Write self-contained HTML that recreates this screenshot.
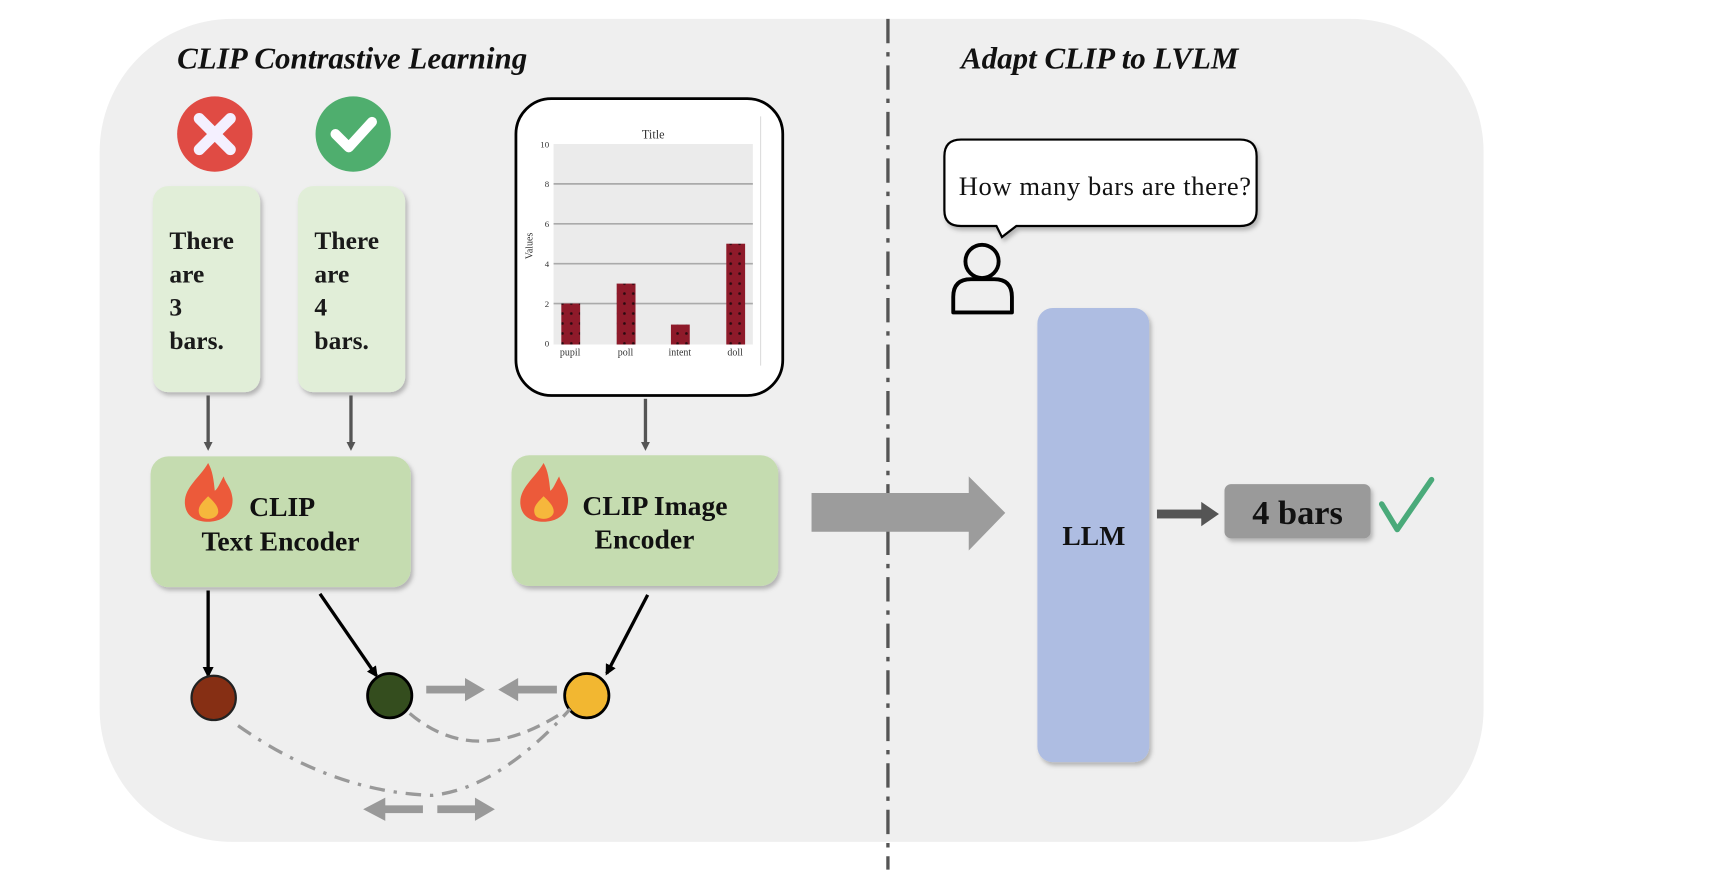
<!DOCTYPE html>
<html><head><meta charset="utf-8"><style>
html,body{margin:0;padding:0;background:#fff;}
svg{display:block;}
text{font-family:"Liberation Serif",serif;}
</style></head><body>
<svg width="1736" height="884" viewBox="0 0 1568 798" preserveAspectRatio="none" xmlns="http://www.w3.org/2000/svg">
<defs>
<filter id="sh" x="-10%" y="-10%" width="130%" height="130%"><feDropShadow dx="2" dy="3" stdDeviation="2" flood-color="#000" flood-opacity="0.25"/></filter>
<marker id="ah" markerWidth="8" markerHeight="8" refX="4" refY="4" orient="auto" markerUnits="userSpaceOnUse"><path d="M0,0 L8,4 L0,8 z" fill="#555"/></marker>
<marker id="ahb" markerWidth="10" markerHeight="10" refX="8" refY="5" orient="auto" markerUnits="userSpaceOnUse"><path d="M0,0 L10,5 L0,10 z" fill="#000"/></marker>
<pattern id="dots" width="8" height="9" patternUnits="userSpaceOnUse"><rect width="8" height="9" fill="#8e1a2a"/><circle cx="4" cy="4" r="1.2" fill="#2a0a10"/></pattern>
</defs>
<rect x="90" y="17" width="1250" height="743" rx="120" fill="#efefef"/>
<line x1="802" y1="17" x2="802" y2="785" stroke="#555" stroke-width="3" stroke-dasharray="22,8,4,8"/>
<text x="160" y="62" font-size="28" font-style="italic" font-weight="bold" fill="#111">CLIP Contrastive Learning</text>
<text x="868" y="62" font-size="28" font-style="italic" font-weight="bold" fill="#111">Adapt CLIP to LVLM</text>

<circle cx="194" cy="121" r="34" fill="#e04b44"/>
<path d="M180,107 L208,135 M208,107 L180,135" stroke="#f4f0ff" stroke-width="10" stroke-linecap="round"/>
<circle cx="319" cy="121" r="34" fill="#4fae6e"/>
<path d="M303,121 L315,133 L336,110" stroke="#fff" stroke-width="9" fill="none" stroke-linecap="round" stroke-linejoin="round"/>

<rect x="138" y="168" width="97" height="186" rx="14" fill="#e1eed8" filter="url(#sh)"/>
<rect x="269" y="168" width="97" height="186" rx="14" fill="#e1eed8" filter="url(#sh)"/>
<g font-size="23" font-weight="bold" fill="#1a1a1a">
<text x="153" y="225">There</text><text x="153" y="255">are</text><text x="153" y="285">3</text><text x="153" y="315">bars.</text>
<text x="284" y="225">There</text><text x="284" y="255">are</text><text x="284" y="285">4</text><text x="284" y="315">bars.</text>
</g>

<rect x="466" y="89" width="241" height="268" rx="32" fill="#fff" stroke="#000" stroke-width="2.5"/>
<text x="590" y="125" font-size="11" text-anchor="middle" font-family="Liberation Sans" fill="#333">Title</text>
<rect x="500" y="130" width="180" height="181" fill="#ebebeb"/>
<g stroke="#aaa" stroke-width="1.5">
<line x1="500" y1="166" x2="680" y2="166"/><line x1="500" y1="202" x2="680" y2="202"/><line x1="500" y1="238" x2="680" y2="238"/><line x1="500" y1="274" x2="680" y2="274"/>
</g>
<line x1="687" y1="105" x2="687" y2="330" stroke="#ddd"/>
<g font-size="8" font-family="Liberation Sans" fill="#333" text-anchor="end">
<text x="496" y="133">10</text><text x="496" y="169">8</text><text x="496" y="205">6</text><text x="496" y="241">4</text><text x="496" y="277">2</text><text x="496" y="313">0</text>
</g>
<text x="481" y="222" font-size="9" font-family="Liberation Sans" fill="#333" transform="rotate(-90 481 222)" text-anchor="middle">Values</text>
<rect x="507" y="274" width="17" height="37" fill="url(#dots)"/>
<rect x="557" y="256" width="17" height="55" fill="url(#dots)"/>
<rect x="606" y="293" width="17" height="18" fill="url(#dots)"/>
<rect x="656" y="220" width="17" height="91" fill="url(#dots)"/>
<g font-size="9" font-family="Liberation Sans" fill="#333" text-anchor="middle">
<text x="515" y="321">pupil</text><text x="565" y="321">poll</text><text x="614" y="321">intent</text><text x="664" y="321">doll</text>
</g>

<g stroke="#555" stroke-width="3" marker-end="url(#ah)">
<line x1="188" y1="357" x2="188" y2="403"/>
<line x1="317" y1="357" x2="317" y2="403"/>
<line x1="583" y1="360" x2="583" y2="403"/>
</g>

<rect x="136" y="412" width="235" height="118" rx="16" fill="#c5dcb0" filter="url(#sh)"/>
<rect x="462" y="411" width="241" height="118" rx="16" fill="#c5dcb0" filter="url(#sh)"/>
<g>
<path d="M188,418 C180,432 166,440 167,455 C168,467 178,471 188,471 C200,471 211,464 210,450 C209,440 204,437 202,430 C198,437 197,441 194,443 C193,433 192,425 188,418 z" fill="#ec5a3a"/>
<path d="M188,448 C182,454 178,458 180,464 C182,470 195,470 197,463 C198,457 192,452 188,448 z" fill="#f6b73c"/>
<path d="M491,418 C483,432 469,440 470,455 C471,467 481,471 491,471 C503,471 514,464 513,450 C512,440 507,437 505,430 C501,437 500,441 497,443 C496,433 495,425 491,418 z" fill="#ec5a3a"/>
<path d="M491,448 C485,454 481,458 483,464 C485,470 498,470 500,463 C501,457 495,452 491,448 z" fill="#f6b73c"/>
</g>
<g font-size="25" font-weight="bold" fill="#111">
<text x="225" y="466">CLIP</text>
<text x="182" y="497">Text Encoder</text>
<text x="526" y="465">CLIP Image</text>
<text x="537" y="495">Encoder</text>
</g>

<g stroke="#000" stroke-width="3" marker-end="url(#ahb)">
<line x1="188" y1="533" x2="188" y2="610"/>
<line x1="289" y1="536" x2="340" y2="610"/>
<line x1="585" y1="537" x2="548" y2="608"/>
</g>
<circle cx="193" cy="630" r="20" fill="#862f14" stroke="#222" stroke-width="2"/>
<circle cx="352" cy="628" r="20" fill="#344d1e" stroke="#000" stroke-width="2.5"/>
<circle cx="530" cy="628" r="20" fill="#f2b731" stroke="#000" stroke-width="2.5"/>

<g fill="#999">
<rect x="385" y="619" width="38" height="7"/><path d="M420,612 L438,622.5 L420,633 z"/>
<rect x="465" y="619" width="38" height="7"/><path d="M468,612 L450,622.5 L468,633 z"/>
<rect x="345" y="727" width="37" height="7"/><path d="M348,720 L328,730.5 L348,741 z"/>
<rect x="395" y="727" width="37" height="7"/><path d="M429,720 L447,730.5 L429,741 z"/>
</g>
<path d="M370,644 Q430,695 510,642" fill="none" stroke="#999" stroke-width="3" stroke-dasharray="12,7"/>
<path d="M215,655 Q300,715 390,718 Q450,712 515,640" fill="none" stroke="#999" stroke-width="3" stroke-dasharray="14,8,3,8"/>

<path d="M733,445 L875,445 L875,430 L908,463 L875,497 L875,480 L733,480 z" fill="#9c9c9c"/>

<rect x="937" y="278" width="101" height="410" rx="14" fill="#aebde2" filter="url(#sh)"/>
<text x="988" y="492" font-size="25" font-weight="bold" text-anchor="middle" fill="#111">LLM</text>
<rect x="1045" y="460" width="42" height="8" fill="#555"/><path d="M1085,453 L1101,464 L1085,475 z" fill="#555"/>
<rect x="1106" y="437" width="132" height="49" rx="6" fill="#9a9a9a" filter="url(#sh)"/>
<text x="1172" y="473" font-size="31" font-weight="bold" text-anchor="middle" fill="#111">4 bars</text>
<path d="M1248,455 L1262,478 L1293,433" fill="none" stroke="#4aaa7a" stroke-width="5" stroke-linecap="round" stroke-linejoin="round"/>

<path d="M868,126 L1120,126 Q1135,126 1135,141 L1135,190 Q1135,204 1120,204 L918,204 L905,214 L900,204 L868,204 Q853,204 853,190 L853,141 Q853,126 868,126 z" fill="#fff" stroke="#000" stroke-width="2" filter="url(#sh)"/>
<text x="866" y="176" font-size="24" fill="#111" textLength="264">How many bars are there?</text>
<circle cx="887" cy="236" r="15" fill="none" stroke="#000" stroke-width="3.5"/>
<path d="M861,282 L861,268 Q861,252 877,252 L898,252 Q914,252 914,268 L914,282 z" fill="none" stroke="#000" stroke-width="3.5" stroke-linejoin="round"/>
</svg>
</body></html>
